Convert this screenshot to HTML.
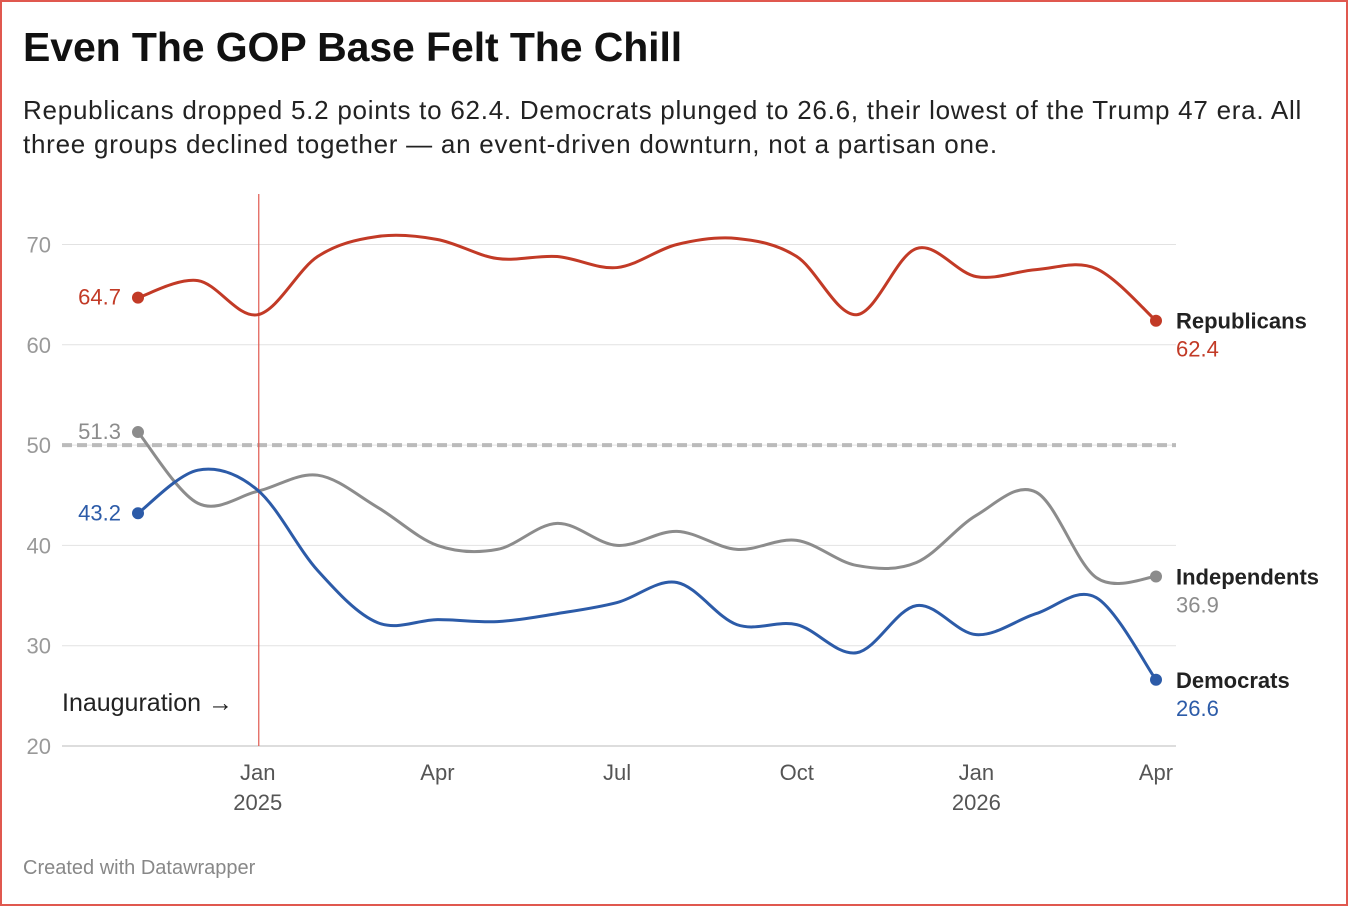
<!DOCTYPE html>
<html><head><meta charset="utf-8"><style>
body{margin:0;background:#fff;font-family:"Liberation Sans",sans-serif}
#wrap{position:absolute;left:0;top:0;width:1344px;height:902px;border:2px solid #e0584f;}
h1{position:absolute;left:23px;top:24px;margin:0;font-size:41px;font-weight:bold;color:#111;letter-spacing:-0.1px}
p{position:absolute;left:23px;top:93px;margin:0;font-size:26px;line-height:34px;color:#222;width:1320px;letter-spacing:0.75px;white-space:nowrap}
.foot{position:absolute;left:23px;top:857px;font-size:20px;color:#888}
svg{position:absolute;left:0;top:0}
</style></head><body>
<div id="wrap"></div>
<h1>Even The GOP Base Felt The Chill</h1>
<p>Republicans dropped 5.2 points to 62.4. Democrats plunged to 26.6, their lowest of the Trump 47 era. All<br>three groups declined together — an event-driven downturn, not a partisan one.</p>
<svg id="c" width="1348" height="906"></svg>
<div class="foot">Created with Datawrapper</div>
<script>
const months=[0,1,2,3,4,5,6,7,8,9,10,11,12,13,14,15,16,17];
const rep=[64.7,66.4,63.0,68.8,70.8,70.5,68.6,68.8,67.7,70.0,70.6,68.8,63.0,69.6,66.8,67.5,67.6,62.4];
const ind=[51.3,44.2,45.4,47.0,43.8,40.0,39.6,42.2,40.0,41.4,39.6,40.5,38.0,38.3,43.0,45.3,36.8,36.9];
const dem=[43.2,47.5,45.5,37.5,32.3,32.6,32.4,33.2,34.3,36.3,32.1,32.1,29.3,34.0,31.1,33.2,34.8,26.6];
const yTicks=[20,30,40,50,60,70];
const xTicks=[{m:2,a:"Jan",b:"2025"},{m:5,a:"Apr"},{m:8,a:"Jul"},{m:11,a:"Oct"},{m:14,a:"Jan",b:"2026"},{m:17,a:"Apr"}];
const X=m=>138+m*(1156-138)/17;
const Y=v=>746-(v-20)*10.03;
const s=document.getElementById('c');const NS="http://www.w3.org/2000/svg";
function el(t,a,txt){const e=document.createElementNS(NS,t);for(const k in a)e.setAttribute(k,a[k]);if(txt!=null)e.textContent=txt;s.appendChild(e);return e;}
yTicks.forEach(v=>{
 const l=el('line',{x1:62,x2:1176,y1:Y(v),y2:Y(v),stroke:v==20?'#bbb':'#e2e2e2','stroke-width':1});
 
 
 const t=el('text',{x:51,y:Y(v)+8,'text-anchor':'end','font-size':22,fill:'#999'},v);
 
 
});
const ref=el('line',{x1:62,x2:1176,y1:Y(50),y2:Y(50),stroke:'#bbb','stroke-width':4,'stroke-dasharray':'10 5'});


xTicks.forEach(t=>{
 const a=el('text',{x:X(t.m),y:780,'text-anchor':'middle','font-size':22,fill:'#555'},t.a);
 
 
 if(t.b){const b=el('text',{x:X(t.m),y:810,'text-anchor':'middle','font-size':22,fill:'#555'},t.b);
 
 }
});
const inaug=el('line',{x1:X(2)+1,x2:X(2)+1,y1:194,y2:746,stroke:'#e0584f','stroke-width':1.2});


const it=el('text',{x:62,y:711,'font-size':25,fill:'#222'},'Inauguration →');


function path(vals){const p=months.map((m,i)=>[X(m),Y(vals[i])]);let d='M'+p[0];
 for(let i=0;i<p.length-1;i++){const p0=p[i-1]||p[i],p1=p[i],p2=p[i+1],p3=p[i+2]||p2;
  const c1=[p1[0]+(p2[0]-p0[0])/6,p1[1]+(p2[1]-p0[1])/6],c2=[p2[0]-(p3[0]-p1[0])/6,p2[1]-(p3[1]-p1[1])/6];
  d+='C'+c1+' '+c2+' '+p2;}return d;}
const series=[[rep,'#c23a26','Republicans','rep'],[ind,'#8c8c8c','Independents','ind'],[dem,'#2c5ba8','Democrats','dem']];
series.forEach(([v,c,n,k])=>{
 const ln=el('path',{d:path(v),fill:'none',stroke:c,'stroke-width':3});
 
 
 const last=v.length-1;
 [0,last].forEach(i=>{const d=el('circle',{cx:X(months[i]),cy:Y(v[i]),r:6,fill:c});
  
  });
 const sl=el('text',{x:X(0)-17,y:Y(v[0])+7,'text-anchor':'end','font-size':22,fill:c},v[0].toFixed(1));
 
 
 const nl=el('text',{x:1176,y:Y(v[last])+8,'font-size':22,'font-weight':'bold',fill:'#222'},n);
 
 
 const vl=el('text',{x:1176,y:Y(v[last])+36,'font-size':22,fill:c},v[last].toFixed(1));
 
 
});
</script>
</body></html>
